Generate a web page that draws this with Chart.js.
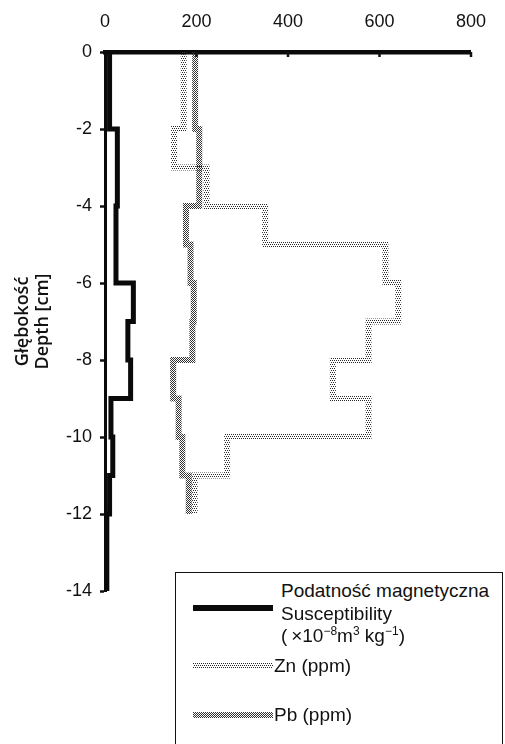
<!DOCTYPE html>
<html>
<head>
<meta charset="utf-8">
<script src="https://cdn.jsdelivr.net/npm/chart.js@4/dist/chart.umd.min.js"></script>
<style>
  html, body { margin: 0; padding: 0; background: #fff; }
  #wrap { position: relative; width: 505px; height: 744px; overflow: hidden; background: #fff; }
  #chart { position: absolute; left: 0; top: 0; }
  .legend-box { position: absolute; left: 175px; top: 572px; width: 326px; height: 200px;
    border: 1.5px solid #111; background: #fff; }
  .lg { position: absolute; font-family: "Liberation Sans", Arial, sans-serif; font-size: 19px;
    line-height: 22px; color: #111; white-space: nowrap; }
  .lg sup { font-size: 12px; vertical-align: 7px; line-height: 0; }
  .sw { position: absolute; left: 193px; width: 80px; height: 6px; }
</style>
</head>
<body>
<div id="wrap">
  <canvas id="chart" width="505" height="744"></canvas>
  <div class="legend-box"></div>
  <canvas class="sw" id="swS" width="80" height="6" style="top:605px"></canvas>
  <div class="lg" style="left:281px; top:580px">Podatność magnetyczna</div>
  <div class="lg" style="left:281px; top:603px">Susceptibility</div>
  <div class="lg" style="left:281px; top:625px">(&#8201;×10<sup>−8</sup>m<sup>3</sup> kg<sup>−1</sup>)</div>
  <canvas class="sw" id="swZn" width="80" height="6" style="top:663px"></canvas>
  <div class="lg" style="left:274px; top:655px">Zn (ppm)</div>
  <canvas class="sw" id="swPb" width="80" height="6" style="top:712px"></canvas>
  <div class="lg" style="left:274px; top:704px">Pb (ppm)</div>
</div>
<script>
// Depth boundaries of the 1 cm core slices (cm, negative downward)
const depthBounds = [0, -1, -2, -3, -4, -5, -6, -7, -8, -9, -10, -11, -12, -13, -14];

// Values per slice, top slice first
const susceptibility = [10, 10, 27, 27, 24, 24, 62, 50, 56, 13, 17, 10, 4, 4];
const zincPpm = [172, 172, 151, 222, 350, 613, 641, 576, 498, 576, 267, 196];
const leadPpm = [197, 197, 206, 206, 177, 187, 194, 191, 149, 161, 169, 183];

// Axis ticks
const valueTicks = [0, 200, 400, 600, 800];
const depthTicks = [0, -2, -4, -6, -8, -10, -12, -14];

const seriesLabels = ['Podatność magnetyczna', 'Zn (ppm)', 'Pb (ppm)'];

// Turn per-slice values into a stepped profile: one point at each slice top plus the last bottom
function profile(values) {
  const pts = [];
  for (let i = 0; i <= values.length; i++) {
    pts.push({ x: values[Math.min(i, values.length - 1)], y: depthBounds[i] });
  }
  return pts;
}

// Stipple fills for the metal profiles
const ZN_DOTS = { size: 4, dots: [[0, 0], [2, 0], [1, 2], [3, 2]], color: '#2a2a2a' };
const PB_DOTS = { size: 2, dots: [[0, 0], [1, 1]], color: '#333' };

function stipple(ctx, spec) {
  const c = document.createElement('canvas');
  c.width = spec.size; c.height = spec.size;
  const g = c.getContext('2d');
  g.fillStyle = spec.color;
  spec.dots.forEach(([x, y]) => g.fillRect(x, y, 1, 1));
  return ctx.createPattern(c, 'repeat');
}

const canvas = document.getElementById('chart');
const ctx = canvas.getContext('2d');
const znFill = stipple(ctx, ZN_DOTS);
const pbFill = stipple(ctx, PB_DOTS);

// Legend swatches
function swatch(id, spec) {
  const el = document.getElementById(id);
  const g = el.getContext('2d');
  g.fillStyle = typeof spec === 'string' ? spec : stipple(g, spec);
  g.fillRect(0, 0, el.width, el.height);
}

const tickFont = { family: '"Liberation Sans", Arial, sans-serif', size: 18 };

const innerTicks = {
  id: 'innerTicks',
  afterDraw(chart) {
    const sx = chart.scales.x;
    const top = chart.chartArea.top;
    const c = chart.ctx;
    c.save();
    c.strokeStyle = '#111';
    c.lineWidth = 2.5;
    valueTicks.slice(1).forEach(v => {
      const px = sx.getPixelForValue(v);
      c.beginPath();
      c.moveTo(px, top);
      c.lineTo(px, top + 5);
      c.stroke();
    });
    c.restore();
  }
};

new Chart(ctx, {
  type: 'line',
  data: {
    datasets: [
      {
        label: seriesLabels[1],
        data: profile(zincPpm),
        borderColor: znFill,
        borderWidth: 6,
        stepped: 'after',
        pointRadius: 0,
        borderJoinStyle: 'miter',
        borderCapStyle: 'butt',
        fill: false
      },
      {
        label: seriesLabels[2],
        data: profile(leadPpm),
        borderColor: pbFill,
        borderWidth: 6,
        stepped: 'after',
        pointRadius: 0,
        borderJoinStyle: 'miter',
        borderCapStyle: 'butt',
        fill: false
      },
      {
        label: seriesLabels[0],
        data: profile(susceptibility),
        borderColor: '#0a0a0a',
        borderWidth: 5,
        stepped: 'after',
        pointRadius: 0,
        borderJoinStyle: 'miter',
        borderCapStyle: 'butt',
        fill: false
      }
    ]
  },
  options: {
    indexAxis: 'y',
    responsive: false,
    animation: false,
    events: [],
    layout: { padding: { left: 0, top: 0, right: 19, bottom: 153 } },
    plugins: { legend: { display: false }, tooltip: { enabled: false } },
    scales: {
      x: {
        type: 'linear',
        position: 'top',
        min: 0,
        max: 800,
        afterBuildTicks: s => { s.ticks = valueTicks.map(v => ({ value: v })); },
        afterFit: s => { s.height = 52; },
        ticks: { font: tickFont, color: '#111', padding: 19, autoSkip: false, maxRotation: 0 },
        grid: { display: false, drawTicks: false },
        border: { display: true, width: 4.5, color: '#0a0a0a' }
      },
      y: {
        type: 'linear',
        min: -14,
        max: 0,
        afterBuildTicks: s => { s.ticks = depthTicks.map(v => ({ value: v })); },
        afterFit: s => { s.width = 105; },
        ticks: { font: tickFont, color: '#111', padding: 8, autoSkip: false },
        grid: { display: true, drawOnChartArea: false, drawTicks: true, tickLength: 5, tickWidth: 2.5, tickColor: '#111' },
        border: { display: true, width: 3, color: '#0a0a0a' },
        title: {
          display: true,
          text: ['Głębokość', 'Depth [cm]'],
          font: { family: '"Open Sans", sans-serif', size: 18, weight: '600', lineHeight: 1.12 },
          color: '#111',
          padding: { top: 13, bottom: 0 }
        }
      }
    }
  },
  plugins: [innerTicks]
});

swatch('swS', '#0a0a0a');
swatch('swZn', ZN_DOTS);
swatch('swPb', PB_DOTS);
</script>
</body>
</html>
